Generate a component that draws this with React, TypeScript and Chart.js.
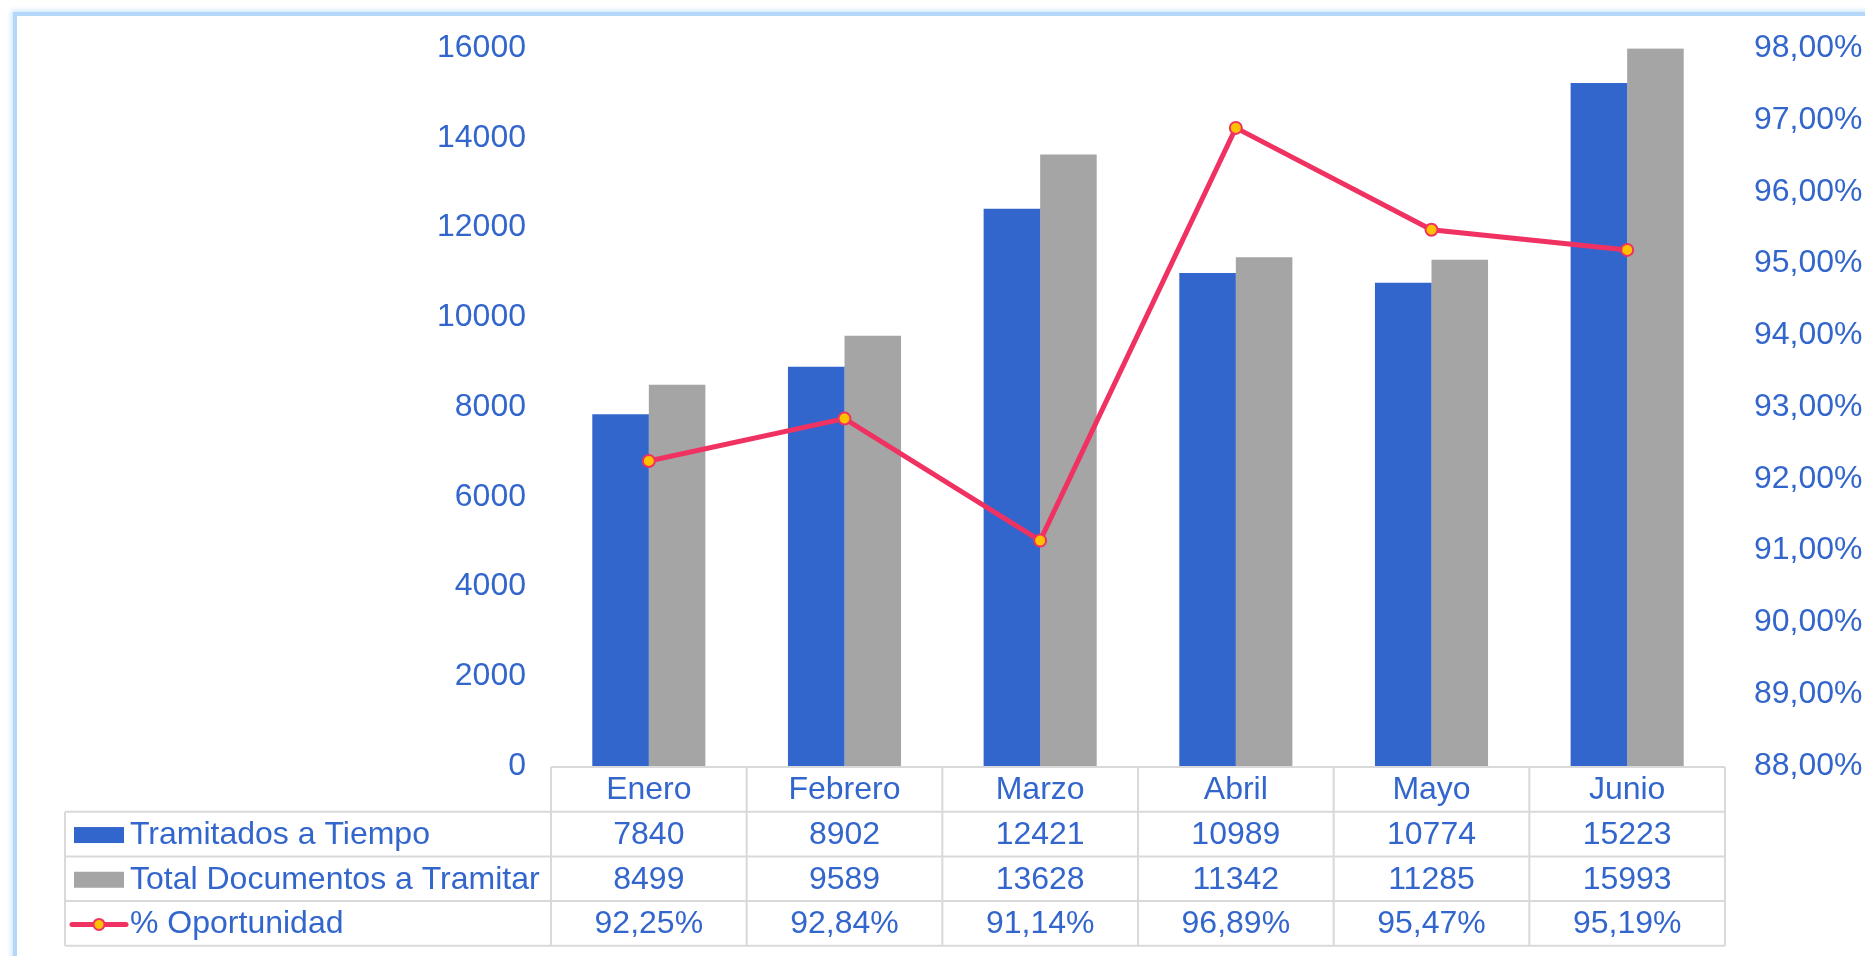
import React, { useEffect, useRef } from "react";
import { Chart, registerables } from "chart.js";

Chart.register(...registerables);

const categories = ["Enero", "Febrero", "Marzo", "Abril", "Mayo", "Junio"];
const tramitados = [7840, 8902, 12421, 10989, 10774, 15223];
const totalDocs = [8499, 9589, 13628, 11342, 11285, 15993];
const oportunidad = [92.25, 92.84, 91.14, 96.89, 95.47, 95.19];
const seriesNames = ["Tramitados a Tiempo", "Total Documentos a Tramitar", "% Oportunidad"];

const BLUE = "#3366CC";
const GREY = "#A5A5A5";
const LINE = "#F03262";
const MARKER = "#FFC000";
const TEXT = "#3366CC";
const GRIDC = "#D9D9D9";
const FONT = "'Liberation Sans', Arial, sans-serif";
const FS = 32;

const fmtPct = (v: number) => v.toFixed(2).replace(".", ",") + "%";

const tablePlugin = {
  id: "dataTable",
  afterDraw(chart: any) {
    const ctx = chart.ctx as CanvasRenderingContext2D;
    const x = chart.scales.x;
    const area = chart.chartArea;
    const n = categories.length;
    const catW = (area.right - area.left) / n;
    const top = area.bottom + 1;
    const rowH = 44.7;
    const labelLeft = 65;
    ctx.save();
    ctx.strokeStyle = GRIDC;
    ctx.lineWidth = 2;
    ctx.beginPath();
    ctx.moveTo(area.left, top);
    ctx.lineTo(area.right, top);
    for (let r = 1; r <= 4; r++) {
      const y = top + r * rowH;
      ctx.moveTo(labelLeft, y);
      ctx.lineTo(area.right, y);
    }
    for (let i = 0; i <= n; i++) {
      const xx = area.left + i * catW;
      ctx.moveTo(xx, top);
      ctx.lineTo(xx, top + 4 * rowH);
    }
    ctx.moveTo(labelLeft, top + rowH);
    ctx.lineTo(labelLeft, top + 4 * rowH);
    ctx.stroke();

    ctx.fillStyle = TEXT;
    ctx.font = `${FS}px ${FONT}`;
    ctx.textBaseline = "middle";
    ctx.textAlign = "center";
    const rows: string[][] = [
      categories,
      tramitados.map(String),
      totalDocs.map(String),
      oportunidad.map(fmtPct),
    ];
    rows.forEach((row, r) => {
      const cy = top + r * rowH + rowH / 2 + 1;
      row.forEach((t, i) => {
        const cx = x.getPixelForValue(i);
        ctx.fillText(t, cx, cy);
      });
    });

    ctx.textAlign = "left";
    seriesNames.forEach((name, k) => {
      const cy = top + (k + 1) * rowH + rowH / 2 + 1;
      if (k < 2) {
        ctx.fillStyle = k === 0 ? BLUE : GREY;
        ctx.fillRect(74, cy - 8, 50, 16);
      } else {
        ctx.strokeStyle = LINE;
        ctx.lineWidth = 5;
        ctx.lineCap = "round";
        ctx.beginPath();
        ctx.moveTo(72, cy);
        ctx.lineTo(126, cy);
        ctx.stroke();
        ctx.beginPath();
        ctx.arc(99, cy, 5.5, 0, Math.PI * 2);
        ctx.fillStyle = MARKER;
        ctx.fill();
        ctx.lineWidth = 2;
        ctx.strokeStyle = LINE;
        ctx.stroke();
      }
      ctx.fillStyle = TEXT;
      ctx.fillText(name, 130, cy);
    });
    ctx.restore();
  },
};

export default function App() {
  const ref = useRef<HTMLCanvasElement | null>(null);
  useEffect(() => {
    document.body.style.margin = "0";
    const canvas = ref.current;
    if (!canvas) return;
    const chart = new Chart(canvas, {
      type: "bar",
      data: {
        labels: categories,
        datasets: [
          {
            type: "line",
            label: seriesNames[2],
            data: oportunidad,
            yAxisID: "y1",
            borderColor: LINE,
            borderWidth: 5,
            pointBackgroundColor: MARKER,
            pointBorderColor: LINE,
            pointBorderWidth: 2,
            pointRadius: 6,
            tension: 0,
            order: 0,
          } as any,
          {
            type: "bar",
            label: seriesNames[0],
            data: tramitados,
            yAxisID: "y",
            backgroundColor: BLUE,
            categoryPercentage: 0.578,
            barPercentage: 1.0,
            order: 1,
          },
          {
            type: "bar",
            label: seriesNames[1],
            data: totalDocs,
            yAxisID: "y",
            backgroundColor: GREY,
            categoryPercentage: 0.578,
            barPercentage: 1.0,
            order: 1,
          },
        ],
      },
      options: {
        responsive: false,
        animation: false,
        layout: { padding: { top: 47, bottom: 190, left: 0, right: 0 } },
        plugins: { legend: { display: false }, tooltip: { enabled: false } },
        scales: {
          x: { display: false, grid: { display: false } },
          y: {
            position: "left",
            min: 0,
            max: 16000,
            border: { display: false },
            grid: { display: false, drawTicks: false },
            ticks: {
              stepSize: 2000,
              padding: 25,
              color: TEXT,
              font: { family: FONT, size: FS },
              callback: (v: any) => String(Math.round(Number(v))),
            },
            afterFit: (s: any) => {
              s.width = 551;
            },
          },
          y1: {
            position: "right",
            min: 88,
            max: 98,
            border: { display: false },
            grid: { display: false, drawTicks: false },
            ticks: {
              stepSize: 1,
              padding: 29,
              color: TEXT,
              font: { family: FONT, size: FS },
              callback: (v: any) => fmtPct(Number(v)),
            },
            afterFit: (s: any) => {
              s.width = 140;
            },
          },
        },
      },
      plugins: [tablePlugin],
    });
    return () => chart.destroy();
  }, []);

  return (
    <div style={{ position: "relative", width: 1865, height: 956, overflow: "hidden", background: "#fff" }}>
      <div
        style={{
          position: "absolute",
          left: 13,
          top: 12,
          width: 1950,
          height: 1050,
          border: "4px solid #B3D6F9",
          boxShadow: "0 0 5px 2px #D3E7FC",
          boxSizing: "border-box",
        }}
      />
      <canvas ref={ref} width={1865} height={956} style={{ position: "absolute", left: 0, top: 0 }} />
    </div>
  );
}
